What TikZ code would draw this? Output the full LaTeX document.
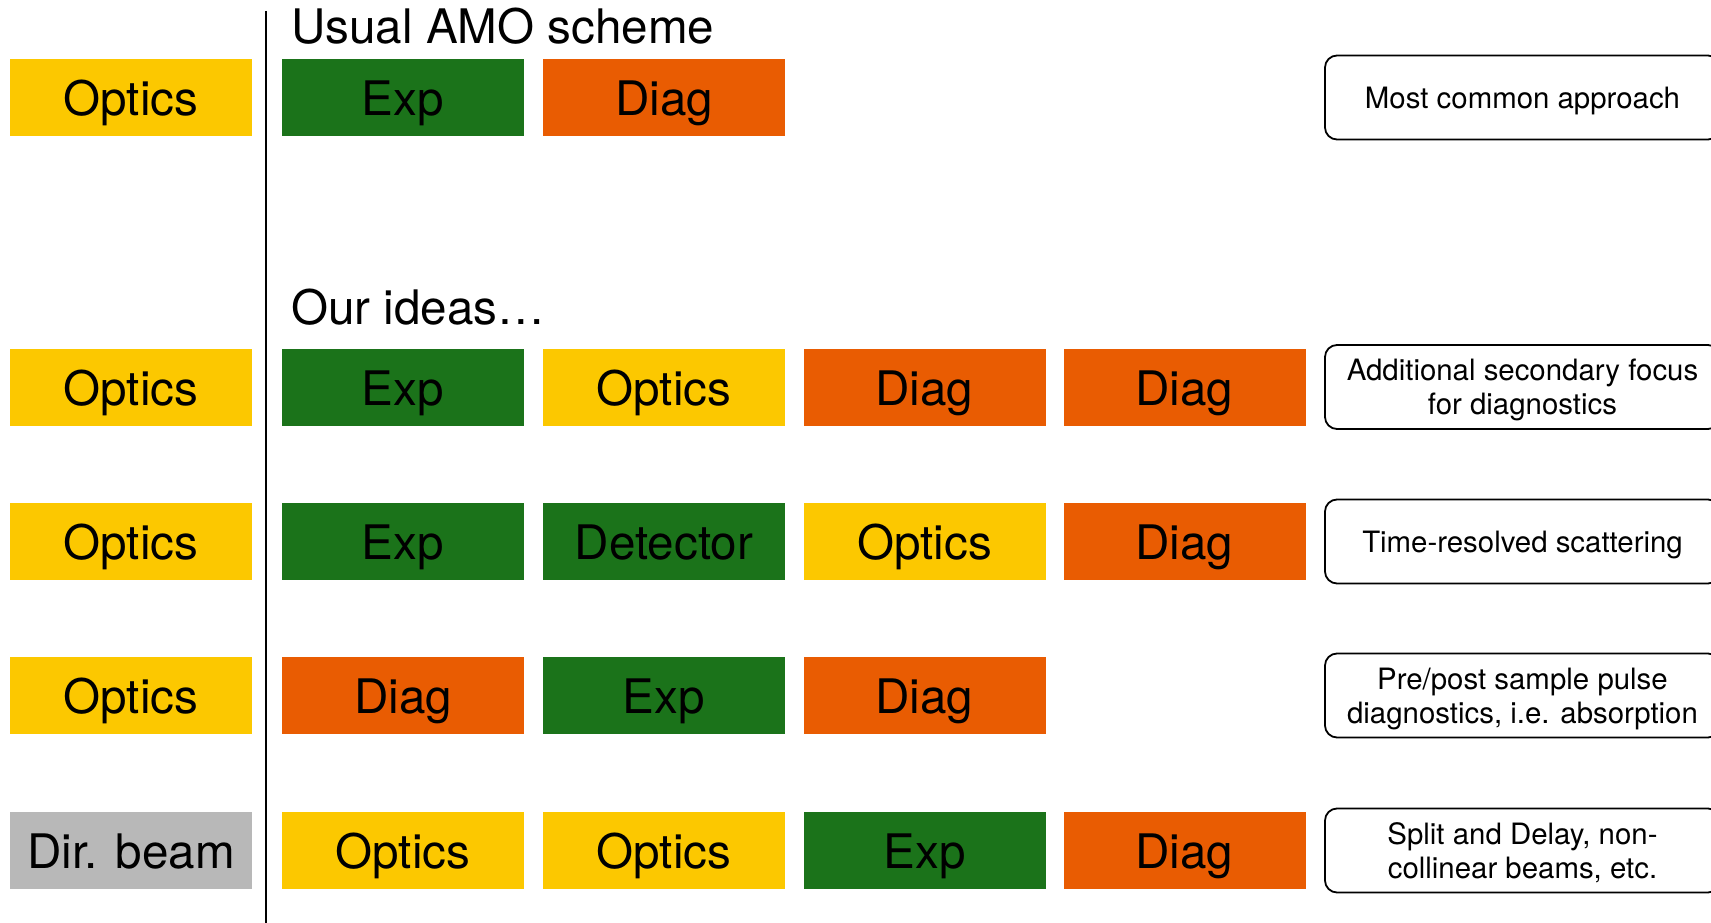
\documentclass[tikz,border=0pt]{standalone}
\usepackage{fontspec}
\setmainfont{TeX Gyre Heros}
\definecolor{optyellow}{RGB}{252,200,0}
\definecolor{expgreen}{RGB}{27,115,26}
\definecolor{diagorange}{RGB}{233,92,2}
\definecolor{beamgray}{RGB}{184,184,184}
\begin{document}
\begin{tikzpicture}[x=1pt,y=-1pt,
  blk/.style={minimum width=242pt, minimum height=77pt, inner sep=0pt,
    text height=36pt, text depth=0pt, font=\fontsize{47.6}{56}\selectfont},
  opt/.style={blk, fill=optyellow},
  expbox/.style={blk, fill=expgreen},
  diagbox/.style={blk, fill=diagorange},
  beambox/.style={blk, fill=beamgray},
  note/.style={draw, rounded corners=12pt, line width=1.8pt,
    minimum width=395pt, minimum height=84pt, inner sep=0pt, align=center,
    text depth=-1pt, font=\fontsize{29.4}{34}\selectfont},
  heading/.style={anchor=base west, inner sep=0pt, font=\fontsize{47.6}{56}\selectfont}]
\useasboundingbox (0,0) rectangle (1711,923);

% separator between source column and beamline elements
\coordinate (sepTop) at (266,11);
\coordinate (sepBot) at (266,923);
\draw[line width=2.2pt] (sepTop) -- (sepBot);

% headings
\node[heading] (h1) at (291,44) {Usual AMO scheme};
\node[heading] (h2) at (291,324) {Our ideas\ldots};

% row 0: usual scheme
\node[opt]     (a1) at (131,97.5) {Optics};
\node[expbox]  (a2) at (403,97.5) {Exp};
\node[diagbox] (a3) at (664,97.5) {Diag};
\node[note]    (an) at (1522.5,97.5) {Most common approach};

% row 1
\node[opt]     (b1) at (131,387) {Optics};
\node[expbox]  (b2) at (403,387) {Exp};
\node[opt]     (b3) at (664,387) {Optics};
\node[diagbox] (b4) at (924.5,387) {Diag};
\node[diagbox] (b5) at (1184.5,387) {Diag};
\node[note]    (bn) at (1522.5,387) {Additional secondary focus\\for diagnostics};

% row 2
\node[opt]     (c1) at (131,541.5) {Optics};
\node[expbox]  (c2) at (403,541.5) {Exp};
\node[expbox]  (c3) at (664,541.5) {Detector};
\node[opt]     (c4) at (924.5,541.5) {Optics};
\node[diagbox] (c5) at (1184.5,541.5) {Diag};
\node[note]    (cn) at (1522.5,541.5) {Time-resolved scattering};

% row 3
\node[opt]     (d1) at (131,695.5) {Optics};
\node[diagbox] (d2) at (403,695.5) {Diag};
\node[expbox]  (d3) at (664,695.5) {Exp};
\node[diagbox] (d4) at (924.5,695.5) {Diag};
\node[note]    (dn) at (1522.5,695.5) {Pre/post sample pulse\\diagnostics, i.e. absorption};

% row 4
\node[beambox] (e1) at (131,850.5) {Dir. beam};
\node[opt]     (e2) at (403,850.5) {Optics};
\node[opt]     (e3) at (664,850.5) {Optics};
\node[expbox]  (e4) at (924.5,850.5) {Exp};
\node[diagbox] (e5) at (1184.5,850.5) {Diag};
\node[note]    (en) at (1522.5,850.5) {Split and Delay, non-\\collinear beams, etc.};
\end{tikzpicture}
\end{document}
